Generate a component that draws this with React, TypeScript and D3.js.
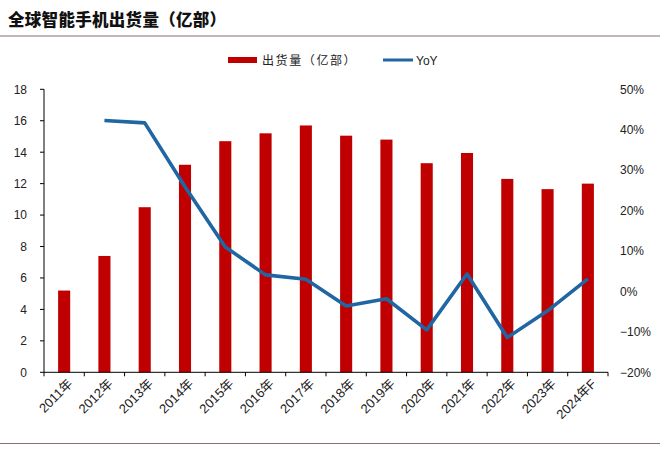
import React from 'react';
import * as d3 from 'd3';

const years = ['2011年', '2012年', '2013年', '2014年', '2015年', '2016年', '2017年',
  '2018年', '2019年', '2020年', '2021年', '2022年', '2023年', '2024年F'];
const shipments = [5.2, 7.4, 10.5, 13.2, 14.7, 15.2, 15.7, 15.05, 14.8, 13.3, 13.95, 12.3, 11.65, 12.0];
const yoy = [null, 42.3, 41.7, 25.9, 11.0, 4.1, 3.0, -3.6, -1.8, -9.5, 4.3, -11.4, -4.8, 3.1];
const leftTicks = [0, 2, 4, 6, 8, 10, 12, 14, 16, 18];
const rightTicks = [-20, -10, 0, 10, 20, 30, 40, 50];

const W = 660;
const H = 453;
const plot = { left: 44, right: 608, top: 89.3, bottom: 372.3 };
const numFont = '"Liberation Sans", Arial, sans-serif';
const cjkFont = '"Noto Sans CJK SC", sans-serif';

export default function App() {
  const x = d3.scaleBand<string>().domain(years).range([plot.left, plot.right]).paddingInner(0).paddingOuter(0);
  const yL = d3.scaleLinear().domain([0, 18]).range([plot.bottom, plot.top]);
  const yR = d3.scaleLinear().domain([-20, 50]).range([plot.bottom, plot.top]);
  const barW = x.bandwidth() * 0.3;
  const cx = (c: string) => (x(c) as number) + x.bandwidth() / 2;

  const lineGen = d3.line<{ c: string; v: number | null }>()
    .defined(d => d.v !== null)
    .x(d => cx(d.c))
    .y(d => yR(d.v as number));
  const linePath = lineGen(years.map((c, i) => ({ c, v: yoy[i] }))) || '';

  const boundaries = d3.range(years.length + 1).map(i => plot.left + i * x.bandwidth());

  return (
    <svg width={W} height={H} style={{ position: 'absolute', left: 0, top: 0, background: '#fff' }}>
      {/* title */}
      <text x={8} y={26} fontFamily={cjkFont} fontWeight={900} fontSize={16.5} letterSpacing={0.3} fill="#111">
        全球智能手机出货量（亿部）
      </text>
      <line x1={0} x2={W} y1={36} y2={36} stroke="#8a6f70" strokeWidth={1.2} />
      <line x1={0} x2={W} y1={443.5} y2={443.5} stroke="#8a6f70" strokeWidth={1.2} />

      {/* legend */}
      <rect x={228} y={57} width={29} height={6} fill="#c00000" />
      <text x={262} y={64.5} fontFamily={cjkFont} fontSize={12} letterSpacing={1.6} fill="#222">出货量（亿部）</text>
      <line x1={383} x2={413} y1={60} y2={60} stroke="#1f66a3" strokeWidth={3} />
      <text x={416} y={64.5} fontFamily={numFont} fontSize={12} fill="#222">YoY</text>

      {/* bars */}
      {years.map((c, i) => (
        <rect key={c} x={cx(c) - barW / 2} y={yL(shipments[i])} width={barW}
          height={yL(0) - yL(shipments[i])} fill="#c00000" />
      ))}

      {/* yoy line */}
      <path d={linePath} fill="none" stroke="#1f66a3" strokeWidth={3.6} strokeLinejoin="round" />

      {/* left axis */}
      <line x1={plot.left} x2={plot.left} y1={plot.top} y2={plot.bottom} stroke="#000" strokeWidth={1} />
      {leftTicks.map(t => (
        <g key={t}>
          <line x1={plot.left - 4} x2={plot.left} y1={yL(t)} y2={yL(t)} stroke="#000" />
          <text x={27} y={yL(t)} dy="0.36em" textAnchor="end" fontFamily={numFont} fontSize={12} fill="#222">{t}</text>
        </g>
      ))}

      {/* right labels */}
      {rightTicks.map(t => (
        <text key={t} x={620} y={yR(t)} dy="0.36em" fontFamily={numFont} fontSize={12} fill="#222">
          {t < 0 ? `−${-t}%` : `${t}%`}
        </text>
      ))}

      {/* x axis */}
      <line x1={plot.left} x2={plot.right} y1={plot.bottom} y2={plot.bottom} stroke="#000" strokeWidth={1} />
      {boundaries.map((b, i) => (
        <line key={i} x1={b} x2={b} y1={plot.bottom} y2={plot.bottom + 4} stroke="#000" />
      ))}
      {years.map(c => {
        const [num, rest] = c.split('年');
        return (
          <text key={c} transform={`translate(${cx(c) + 6},${plot.bottom + 9}) rotate(-45)`}
            textAnchor="end" dy="0.35em" fontFamily={numFont} fontSize={13} fill="#222">
            {num}<tspan fontFamily={cjkFont}>年</tspan>{rest}
          </text>
        );
      })}
    </svg>
  );
}
